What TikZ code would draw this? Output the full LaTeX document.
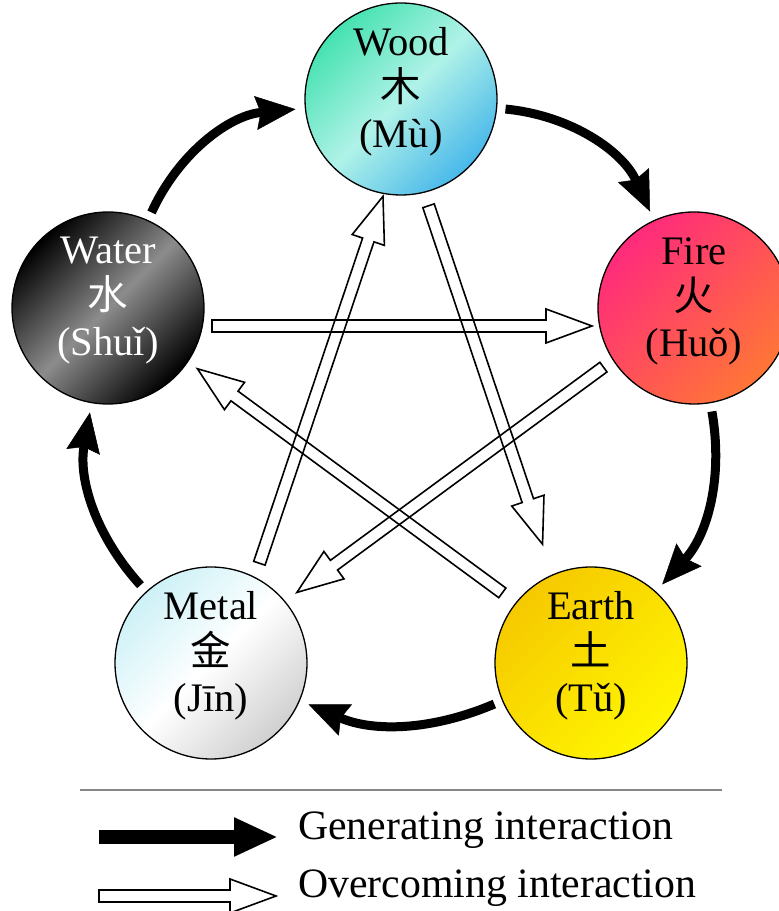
\documentclass[tikz,border=0pt]{standalone}
\usepackage{fontspec}
\setmainfont{Liberation Serif}
\newfontfamily\cjk{Noto Sans CJK SC}
\usetikzlibrary{arrows.meta, calc}
\definecolor{woodA}{HTML}{45E2B0}
\definecolor{woodB}{HTML}{B0F2E8}
\definecolor{woodC}{HTML}{48B8EA}
\definecolor{fireA}{HTML}{FF2A7C}
\definecolor{fireB}{HTML}{FF7636}
\definecolor{earthA}{HTML}{F6C900}
\definecolor{earthB}{HTML}{FFF600}
\definecolor{metalA}{HTML}{CDF1F7}
\definecolor{metalC}{HTML}{D0D0D0}
\definecolor{waterB}{HTML}{8C8C8C}
\tikzstyle{element} = [circle, draw=black, line width=1.3pt, minimum size=192pt, inner sep=0pt, outer sep=0pt]
\tikzstyle{elemtext} = [align=center, font=\fontsize{40.5}{46}\selectfont, yshift=7pt]
\tikzstyle{generate} = [line width=9pt, -{Stealth[length=40pt, width=34pt, inset=5pt, line width=0.5pt]}, shorten <=9pt, shorten >=10pt]
\tikzstyle{overstroke} = [draw=black, line width=1.6pt, line join=miter]
\tikzstyle{legendtext} = [anchor=base west, font=\fontsize{41.8}{46}\selectfont, inner sep=0pt]
\newcommand\overcome[5]{%
  \draw[overstroke] let \p1 = ($(#1)!#3!(#2)!#5!-90:(#2)$),
                        \p2 = ($(#2)!#4!(#1)!#5!90:(#1)$),
                        \n1 = {atan2(\y2-\y1,\x2-\x1)},
                        \n2 = {veclen(\x2-\x1,\y2-\y1)} in
    [shift={(\p1)}, rotate=\n1]
    (0pt,-6pt) -- ({\n2-46pt},-6pt) -- ({\n2-46pt},-17pt) -- (\n2,0pt)
    -- ({\n2-46pt},17pt) -- ({\n2-46pt},6pt) -- (0pt,6pt) -- cycle;
}

\begin{document}
\begin{tikzpicture}[x=1pt, y=1pt]
\useasboundingbox (0,0) rectangle (779,911);

\node (wood) [element, top color=woodA, bottom color=woodC, middle color=woodB, shading angle=45,
  label={[elemtext]center:{Wood\\{\cjk 木}\\(Mù)}}] at (401,812) {};
\node (fire) [element, top color=fireA, bottom color=fireB, shading angle=45,
  label={[elemtext]center:{Fire\\{\cjk 火}\\(Huǒ)}}] at (694,603) {};
\node (earth) [element, top color=earthA, bottom color=earthB, shading angle=45,
  label={[elemtext]center:{Earth\\{\cjk 土}\\(Tǔ)}}] at (591,248) {};
\node (metal) [element, top color=metalA, bottom color=metalC, middle color=white, shading angle=45,
  label={[elemtext]center:{Metal\\{\cjk 金}\\(Jīn)}}] at (211,248) {};
\node (water) [element, top color=black, bottom color=black, middle color=waterB, shading angle=45,
  label={[elemtext, text=white]center:{Water\\{\cjk 水}\\(Shuǐ)}}] at (108,603) {};

\draw [generate] (wood) to[bend left=30] (fire);
\draw [generate] (fire) to[bend left=26] (earth);
\draw [generate] (earth) to[bend left=23] (metal);
\draw [generate] (metal) to[bend left=26] (water);
\draw [generate] (water) to[bend left=30] (wood);

\overcome{wood}{earth}{110pt}{128pt}{8pt}
\overcome{earth}{water}{113pt}{108pt}{4pt}
\overcome{water}{fire}{104pt}{102pt}{18pt}
\overcome{fire}{metal}{108pt}{111pt}{6pt}
\overcome{metal}{wood}{110pt}{98pt}{14pt}

\draw [black!47, line width=2.5pt] (80,121) -- (722,121);

\node (gentext) [legendtext] at (298,71) {Generating interaction};
\node (overtext) [legendtext] at (298,13) {Overcoming interaction};
\coordinate (genstart) at (99,74);
\coordinate (gentip) at (278,74);
\coordinate (overstart) at (99,15);
\coordinate (overtip) at (276,15);
\draw [line width=14pt, -{Triangle[length=44pt, width=36pt]}] (genstart) -- (gentip);
\overcome{overstart}{overtip}{0pt}{0pt}{0pt}
\end{tikzpicture}
\end{document}
